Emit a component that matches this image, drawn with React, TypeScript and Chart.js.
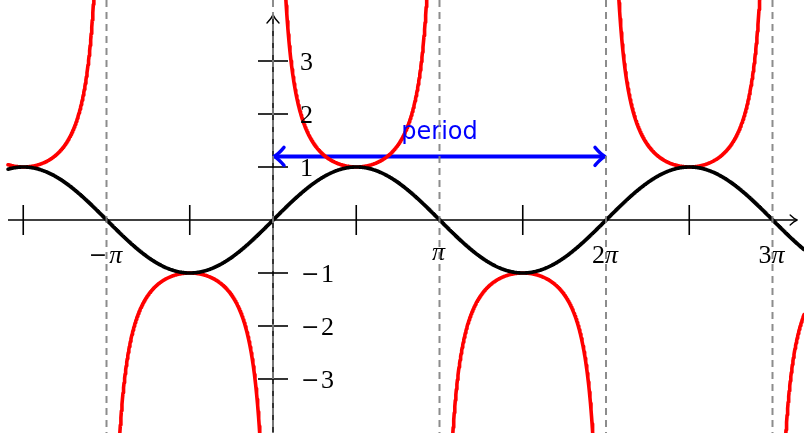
import { useEffect, useRef } from 'react';
import { Chart, registerables } from 'chart.js';

Chart.register(...registerables);

const PI = Math.PI;

// Visible window in plot units (x in radians)
const X_VIEW = [-5.151, 10.019];
const Y_VIEW = [-4.019, 4.151];

// Domain over which sin x and csc x are traced
const DOMAIN = [-5, 10.1];
const STEP = 0.01;
const CSC_LIMIT = 6;

// Extent of the drawn axes
const X_AXIS_SPAN = [-5, 9.89];
const Y_AXIS_SPAN = [-4.3, 3.87];

// Dashed guides at these multiples of π
const GUIDE_MULTIPLES = [-1, 0, 1, 2, 3];
// Unlabelled tick marks at odd multiples of π/2
const X_TICK_MULTIPLES = [-1.5, -0.5, 0.5, 1.5, 2.5];
// Labelled multiples of π
const X_LABEL_MULTIPLES = [-1, 1, 2, 3];
const X_LABELS = ['−π', 'π', '2π', '3π'];
const Y_TICKS = [-3, -2, -1, 1, 2, 3];
const Y_LABELS = ['−3', '−2', '−1', '1', '2', '3'];

// Period marker: one full cycle from 0 to 2π
const PERIOD_FROM = 0;
const PERIOD_TO = 2 * PI;
const PERIOD_LEVEL = 1.2;
const PERIOD_TEXT = 'period';

const SERIF = '"Liberation Serif", "DejaVu Serif", serif';
const MINUS_FONT = '22px "DejaVu Serif", serif';
const SANS = '"DejaVu Sans", "Noto Sans", sans-serif';

type Pt = { x: number; y: number | null };

function traceSin(): Pt[] {
  const pts: Pt[] = [];
  for (let i = 0; ; i++) {
    const x = DOMAIN[0] + i * STEP;
    if (x > DOMAIN[1]) break;
    pts.push({ x, y: Math.sin(x) });
  }
  return pts;
}

function traceCsc(): Pt[] {
  const pts: Pt[] = [];
  for (let i = 0; ; i++) {
    const x = DOMAIN[0] + i * STEP;
    if (x > DOMAIN[1]) break;
    const y = 1 / Math.sin(x);
    pts.push({ x, y: Math.abs(y) > CSC_LIMIT ? null : y });
  }
  return pts;
}

function arrowHead(
  ctx: CanvasRenderingContext2D,
  tx: number,
  ty: number,
  dx: number,
  dy: number,
  len: number,
  half: number,
) {
  // dx, dy: unit direction the arrow points to
  const px = -dy;
  const py = dx;
  ctx.beginPath();
  for (const s of [1, -1]) {
    const ex = tx - dx * len + px * half * s;
    const ey = ty - dy * len + py * half * s;
    const cx = tx - dx * len * 0.45 + px * half * 0.25 * s;
    const cy = ty - dy * len * 0.45 + py * half * 0.25 * s;
    ctx.moveTo(ex, ey);
    ctx.quadraticCurveTo(cx, cy, tx, ty);
  }
  ctx.stroke();
}

// Draws a label character by character: π in italic, the minus sign in a wider face
function drawPieces(
  ctx: CanvasRenderingContext2D,
  label: string,
  centerX: number,
  baseline: number,
  size: number,
) {
  const upright = `${size}px ${SERIF}`;
  const italic = `italic ${size}px ${SERIF}`;
  const parts = Array.from(label).map((ch) => {
    const font = ch === 'π' ? italic : ch === '−' ? MINUS_FONT : upright;
    ctx.font = font;
    const gap = ch === '−' ? 2 : 0;
    return { ch, font, w: ctx.measureText(ch).width, gap };
  });
  const total = parts.reduce((a, p) => a + p.w + p.gap, 0);
  let x = centerX - total / 2;
  ctx.textAlign = 'left';
  ctx.textBaseline = 'alphabetic';
  for (const p of parts) {
    ctx.font = p.font;
    ctx.fillText(p.ch, x, p.ch === '−' ? baseline - 1 : baseline);
    x += p.w + p.gap;
  }
}

const axesPlugin = {
  id: 'trigAxes',
  beforeDatasetsDraw(chart: Chart) {
    const { ctx } = chart;
    const xs = chart.scales.x;
    const ys = chart.scales.y;
    const ox = xs.getPixelForValue(0);
    const oy = ys.getPixelForValue(0);
    ctx.save();
    ctx.strokeStyle = '#000';
    ctx.lineWidth = 1.6;
    ctx.lineCap = 'butt';

    // x axis
    const xl = xs.getPixelForValue(X_AXIS_SPAN[0]);
    const xr = xs.getPixelForValue(X_AXIS_SPAN[1]);
    ctx.beginPath();
    ctx.moveTo(xl, oy);
    ctx.lineTo(xr - 1, oy);
    ctx.stroke();
    // y axis
    const yb = ys.getPixelForValue(Y_AXIS_SPAN[0]);
    const yt = ys.getPixelForValue(Y_AXIS_SPAN[1]);
    ctx.beginPath();
    ctx.moveTo(ox, yb);
    ctx.lineTo(ox, yt + 1);
    ctx.stroke();

    ctx.lineCap = 'round';
    ctx.lineWidth = 1.4;
    arrowHead(ctx, xr, oy, 1, 0, 7, 5);
    arrowHead(ctx, ox, yt, 0, -1, 8, 6);

    // tick marks crossing the axes
    ctx.lineCap = 'butt';
    ctx.lineWidth = 1.6;
    for (const m of X_TICK_MULTIPLES) {
      const px = xs.getPixelForValue(m * PI);
      ctx.beginPath();
      ctx.moveTo(px, oy - 15);
      ctx.lineTo(px, oy + 15);
      ctx.stroke();
    }
    for (const v of Y_TICKS) {
      const py = ys.getPixelForValue(v);
      ctx.beginPath();
      ctx.moveTo(ox - 15, py);
      ctx.lineTo(ox + 15, py);
      ctx.stroke();
    }

    // period arrow
    const pa = xs.getPixelForValue(PERIOD_FROM);
    const pb = xs.getPixelForValue(PERIOD_TO);
    const py = ys.getPixelForValue(PERIOD_LEVEL);
    ctx.strokeStyle = '#0000ff';
    ctx.lineWidth = 4;
    ctx.beginPath();
    ctx.moveTo(pa + 2, py);
    ctx.lineTo(pb - 2, py);
    ctx.stroke();
    ctx.lineCap = 'round';
    ctx.lineWidth = 3.4;
    arrowHead(ctx, pa + 1, py, -1, 0, 10, 9);
    arrowHead(ctx, pb - 1, py, 1, 0, 10, 9);
    ctx.restore();
  },
  afterDatasetsDraw(chart: Chart) {
    const { ctx } = chart;
    const xs = chart.scales.x;
    const ys = chart.scales.y;
    const ox = xs.getPixelForValue(0);
    const oy = ys.getPixelForValue(0);
    const top = chart.chartArea.top;
    const bottom = chart.chartArea.bottom;
    ctx.save();

    // labels on the x axis
    ctx.fillStyle = '#000';
    X_LABELS.forEach((lab, i) => {
      const px = xs.getPixelForValue(X_LABEL_MULTIPLES[i] * PI) - 1;
      const baseline = oy + (lab.length > 1 ? 43.5 : 40);
      drawPieces(ctx, lab, px, baseline, 26);
    });

    // labels on the y axis
    ctx.textAlign = 'left';
    ctx.textBaseline = 'alphabetic';
    Y_LABELS.forEach((lab, i) => {
      const py = ys.getPixelForValue(Y_TICKS[i]) + 9;
      if (lab.startsWith('−')) {
        ctx.font = MINUS_FONT;
        ctx.fillText('−', ox + 28, py - 1);
        ctx.font = `26px ${SERIF}`;
        ctx.fillText(lab.slice(1), ox + 48, py);
      } else {
        ctx.font = `26px ${SERIF}`;
        ctx.fillText(lab, ox + 27, py);
      }
    });

    // period caption
    const mid = xs.getPixelForValue((PERIOD_FROM + PERIOD_TO) / 2);
    ctx.fillStyle = '#0000ff';
    ctx.font = `24px ${SANS}`;
    ctx.textAlign = 'center';
    ctx.fillText(PERIOD_TEXT, mid, ys.getPixelForValue(PERIOD_LEVEL) - 17.5);

    // dashed guides at multiples of π
    ctx.strokeStyle = 'rgba(128,128,128,0.9)';
    ctx.lineWidth = 2;
    ctx.setLineDash([7, 5]);
    for (const m of GUIDE_MULTIPLES) {
      const px = xs.getPixelForValue(m * PI);
      ctx.beginPath();
      ctx.moveTo(px, top);
      ctx.lineTo(px, bottom);
      ctx.stroke();
    }
    ctx.restore();
  },
};

export default function App() {
  const ref = useRef<HTMLCanvasElement>(null);

  useEffect(() => {
    document.body.style.margin = '0';
    const canvas = ref.current;
    if (!canvas) return;
    const chart = new Chart(canvas, {
      type: 'line',
      data: {
        datasets: [
          {
            label: 'sin x',
            data: traceSin() as any,
            borderColor: '#000000',
            borderWidth: 3.6,
            borderJoinStyle: 'round',
            borderCapStyle: 'round',
            pointRadius: 0,
            tension: 0,
            spanGaps: false,
          },
          {
            label: 'csc x',
            data: traceCsc() as any,
            borderColor: '#ff0000',
            borderWidth: 3.6,
            borderJoinStyle: 'round',
            borderCapStyle: 'round',
            pointRadius: 0,
            tension: 0,
            spanGaps: false,
          },
        ],
      },
      options: {
        responsive: false,
        maintainAspectRatio: false,
        animation: false,
        events: [],
        layout: { padding: 0 },
        plugins: {
          legend: { display: false },
          tooltip: { enabled: false },
        },
        scales: {
          x: { type: 'linear', min: X_VIEW[0], max: X_VIEW[1], display: false },
          y: { type: 'linear', min: Y_VIEW[0], max: Y_VIEW[1], display: false },
        },
      },
      plugins: [axesPlugin],
    });
    return () => chart.destroy();
  }, []);

  return (
    <div style={{ position: 'fixed', left: 0, top: 0, width: 804, height: 433, background: '#fff' }}>
      <canvas ref={ref} width={804} height={433} style={{ display: 'block', width: 804, height: 433 }} />
    </div>
  );
}
